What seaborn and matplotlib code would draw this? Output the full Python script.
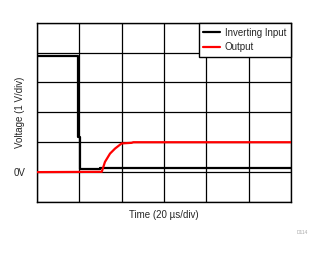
import numpy as np
import pandas as pd
import matplotlib
matplotlib.use("Agg")
import matplotlib.pyplot as plt
import seaborn as sns

# Data (time in microseconds, voltage in volts)
input_time = [0, 19.5, 19.5, 20.3, 20.3, 29.8, 29.8, 120]
input_volts = [3.87, 3.87, 1.18, 1.18, 0.09, 0.09, 0.14, 0.14]
output_time = [0, 30.6, 32.1, 34.5, 36.9, 40.0, 44.7, 45.5, 120]
output_volts = [0.0, 0.01, 0.34, 0.62, 0.79, 0.96, 0.98, 1.0, 1.0]
series_names = ["Inverting Input", "Output"]
series_colors = ["#000000", "#ff0000"]

sns.set_style("white")
plt.rcParams["font.family"] = ["Liberation Sans", "DejaVu Sans"]

fig = plt.figure(figsize=(3.24, 2.54), dpi=100)
ax = fig.add_axes([37/324, 1-202/254, (291-37)/324, (202-22.7)/254])

for name, col, tt, vv in zip(series_names, series_colors,
                             [input_time, output_time], [input_volts, output_volts]):
    sub = pd.DataFrame({"t": tt, "v": vv})
    sns.lineplot(data=sub, x="t", y="v", color=col, linewidth=1.6, ax=ax,
                 sort=False, estimator=None, label=name, zorder=3)

ax.set_xlim(0, 120)
ax.set_ylim(-1, 5)
ax.set_xticks(np.arange(0, 121, 20))
ax.set_yticks(np.arange(-1, 6, 1))
ax.set_xticklabels([])
ax.set_yticklabels(["" if v != 0 else "0V" for v in range(-1, 6)], fontsize=7)
ax.tick_params(axis="both", length=0, pad=8.6)
ax.grid(True, color="black", linewidth=0.9)
for sp in ax.spines.values():
    sp.set_visible(True)
    sp.set_color("black")
    sp.set_linewidth(1.0)

ax.set_xlabel("Time (20 µs/div)", fontsize=7)
ax.set_ylabel("Voltage (1 V/div)", fontsize=7)
ax.xaxis.set_label_coords(0.5, -0.045, transform=ax.transAxes)
ax.yaxis.set_label_coords(-0.047, 0.5, transform=ax.transAxes)

leg = ax.legend(loc="upper right", bbox_to_anchor=(1, 1), borderaxespad=0,
                fancybox=False, edgecolor="black", framealpha=1, fontsize=7,
                handlelength=1.7, handletextpad=0.5, labelspacing=0.5,
                borderpad=0.5)
leg.get_frame().set_linewidth(1.0)

fig.text(302/324, 1-233/254, "D114", fontsize=3.5, color="#aaaaaa",
         ha="center", va="center")

fig.savefig("out.png", dpi=100)
